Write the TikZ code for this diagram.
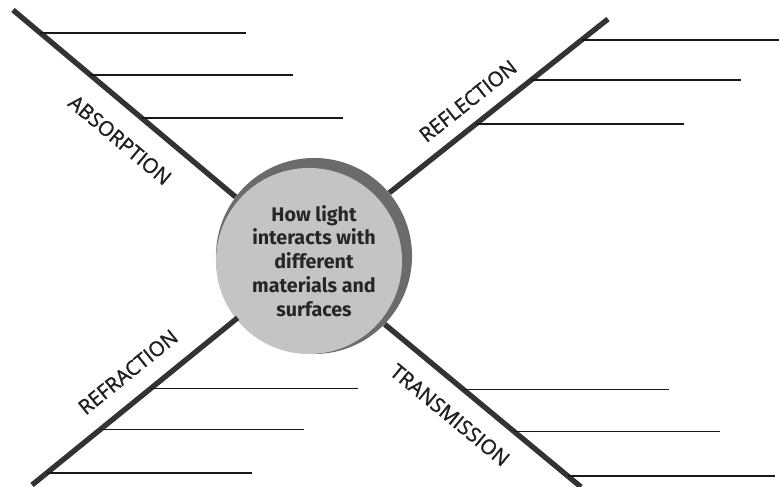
\documentclass[tikz,border=0pt]{standalone}
\usepackage{fontspec}
\setmainfont{Open Sans}
\newfontfamily\topicfont[FakeBold=1.3]{Open Sans}
\newfontfamily\hubfont{Fira Sans}

\tikzset{
  spoke/.style={line width=3.8pt, black!80},
  blank/.style={line width=1pt, black!90},
  topic/.style={font=\topicfont\fontsize{14.5}{16}\selectfont, text=black!88, inner sep=0pt},
}

\begin{document}
\begin{tikzpicture}[x=0.025cm,y=-0.025cm]
        \useasboundingbox (0,0) rectangle (780,486);
        \node[circle, fill=black!58, minimum size=4.9cm, inner sep=0pt] (hub) at (314,256) {};
        \node[circle, fill=black!23, minimum size=4.65cm, inner sep=0pt] (face) at (309,261) {};
        \node[align=center, inner sep=0pt, text=black!85, font=\hubfont\bfseries\fontsize{14}{17}\selectfont] (question) at (314,261) {How light\\interacts with\\different\\materials and\\surfaces};

        \coordinate (absTip) at (13,10);
        \coordinate (refTip) at (608,19);
        \coordinate (fraTip) at (32,485);
        \coordinate (traTip) at (581,487);

        \draw[spoke] (hub.143) -- (absTip) coordinate[pos=0.877] (abs1) coordinate[pos=0.652] (abs2) coordinate[pos=0.422] (abs3);
        \draw[spoke] (hub.40) -- (refTip) coordinate[pos=0.879] (ref1) coordinate[pos=0.649] (ref2) coordinate[pos=0.397] (ref3);
        \draw[spoke] (hub.219) -- (fraTip) coordinate[pos=0.422] (fra1) coordinate[pos=0.669] (fra2) coordinate[pos=0.928] (fra3);
        \draw[spoke] (hub.316) -- (traTip) coordinate[pos=0.401] (tra1) coordinate[pos=0.660] (tra2) coordinate[pos=0.932] (tra3);

        \foreach \p/\e in {abs1/246, abs2/293, abs3/343, ref1/779, ref2/741, ref3/684, fra1/358, fra2/304, fra3/252, tra1/669, tra2/720, tra3/775}
            \draw[blank] (\p) -- (\p -| \e,0);

        \node[topic, rotate=-40] (absorption) at (120,140) {ABSORPTION};
        \node[topic, rotate=38.5] (reflection) at (468,101) {REFLECTION};
        \node[topic, rotate=39] (refraction) at (128,372) {REFRACTION};
        \node[topic, rotate=-39.5] (transmission) at (450,415) {TRANSMISSION};
\end{tikzpicture}
\end{document}
